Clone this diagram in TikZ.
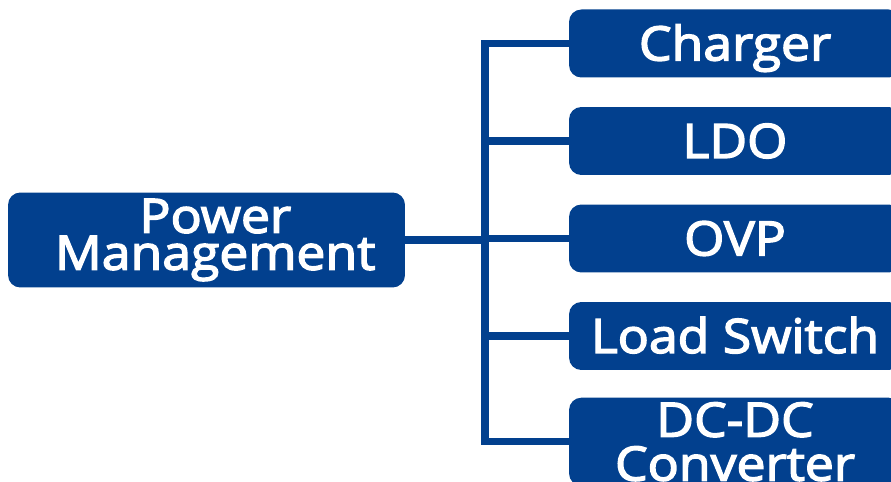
\documentclass[tikz,border=0pt]{standalone}
\usepackage{fontspec}
\setmainfont{Open Sans}
\newfontfamily\pmfont{Open Sans}[FakeBold=3, FakeStretch=1.09]
\usepackage{xcolor}
\usepackage{tikz}
\usetikzlibrary{positioning,calc}
\definecolor{PMblue}{RGB}{2,64,142}
\tikzset{
  pmbox/.style={rectangle, rounded corners=7pt, draw=none, fill=PMblue,
                text=white, inner sep=0pt, align=center,
                font=\pmfont\fontsize{27}{21}\selectfont},
  subbox/.style={pmbox, minimum width=6.64cm, minimum height=1.36cm,
                 text height=19.3pt, text depth=0pt},
  link/.style={line width=4.3pt, PMblue},
}

\begin{document}
\begin{tikzpicture}[x=0.02cm,y=-0.02cm]
    \clip (0,0) rectangle (891,482);

    % root box
    \node[pmbox, minimum width=7.94cm, minimum height=1.9cm] (pm) at (206.5,240)
         {\hspace*{10pt}Power\\\hspace*{10pt}Management};

    % the five branches
    \foreach \name/\y/\lbl in {chg/43.5/Charger, ldo/141/LDO, ovp/238.5/OVP,
                               lsw/336/{Load Switch}}{
      \node[subbox] (\name) at (735,\y) {\lbl};
    }
    \node[pmbox, minimum width=6.64cm, minimum height=1.76cm,
          font=\pmfont\fontsize{27}{25}\selectfont] (dcdc) at (735,441.7)
         {DC-DC\\Converter};

    \coordinate (trunk) at (485,240);
    \draw[link] (pm.east) -- (trunk);
    \draw[link] (chg.west) -| (trunk |- dcdc.west) -- (dcdc.west);
    \foreach \name in {ldo,ovp,lsw}{
      \draw[link] (trunk |- \name.west) -- (\name.west);
    }
\end{tikzpicture}
\end{document}
